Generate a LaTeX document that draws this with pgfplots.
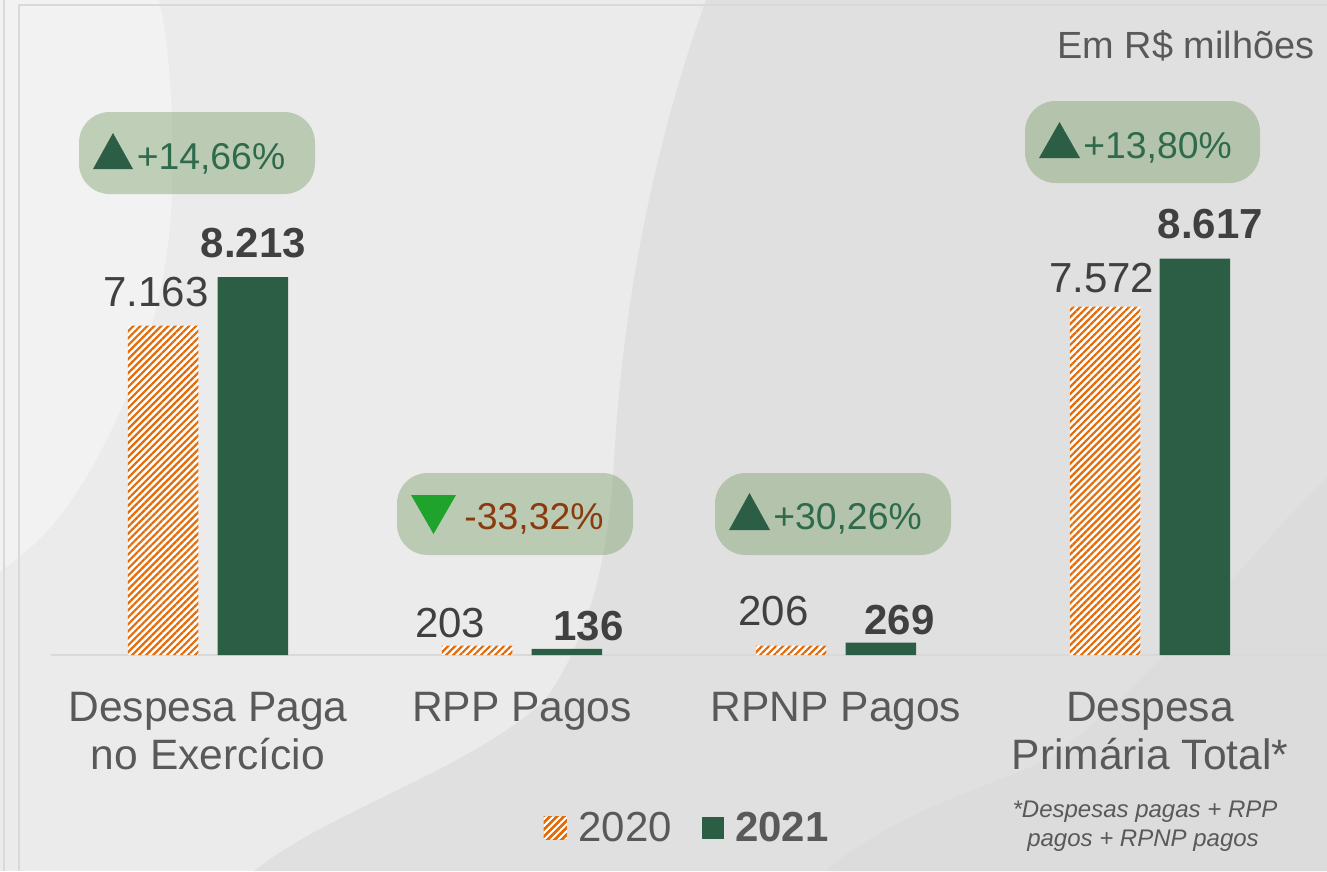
\documentclass[border=0pt]{standalone}
\usepackage{fontspec}
\setmainfont{Liberation Sans}
\usepackage{pgfplots}
\usepackage{pgfplotstable}
\pgfplotsset{compat=1.18}
\usetikzlibrary{patterns.meta}
\definecolor{barGreen}{HTML}{2C5E45}
\definecolor{pillTxt}{HTML}{2F6A4C}
\definecolor{barOrange}{HTML}{E36C0A}
\definecolor{pillC}{HTML}{739A5E}
\definecolor{labelC}{HTML}{404040}
\definecolor{textC}{HTML}{595959}
\definecolor{brownC}{HTML}{8B3A0E}
\definecolor{downC}{HTML}{1FA32C}
\definecolor{frameC}{HTML}{D9D9D9}
\pgfplotstableread{
x y
0 7163
1 203
2 206
3 7572
}\tableA
\pgfplotstableread{
x y
0 8213
1 136
2 269
3 8617
}\tableB
\tikzset{
 stripes/.style={pattern={Lines[angle=45,distance=3.7pt,line width=1.65pt]},pattern color=barOrange},
 pill/.style={fill=pillC,fill opacity=0.4,rounded corners=23pt},
 pilltxt/.style={anchor=base,font=\fontsize{28}{32}\selectfont,inner sep=0pt},
 lbl/.style={anchor=base,inner sep=0pt,text=labelC,font=\fontsize{31.5}{36}\selectfont},
 lblb/.style={anchor=base,inner sep=0pt,text=labelC,font=\bfseries\fontsize{31.5}{36}\selectfont}
}
\begin{document}
\begin{tikzpicture}[x=0.75pt,y=-0.75pt]
\path[use as bounding box] (0,0) rectangle (1327,871);
% background
\fill[white!92!black] (0,0) rectangle (1327,871);
\fill[white!88!black] (706,0) .. controls (670,100) and (625,260) .. (614,461)
  .. controls (610,540) and (595,630) .. (545,700)
  .. controls (470,770) and (330,810) .. (254,871) -- (1327,871) -- (1327,0) -- cycle;
\fill[white!86.3!black] (825,871) .. controls (900,810) and (980,790) .. (1045,761)
  .. controls (1150,690) and (1250,550) .. (1327,478) -- (1327,871) -- cycle;
\fill[white!95!black] (0,0) -- (159,0) .. controls (172,50) and (180,190) .. (163,278)
  .. controls (146,366) and (100,470) .. (50,528) .. controls (30,550) and (15,560) .. (0,572) -- cycle;
\draw[frameC,line width=1.5pt] (3.5,0) -- (3.5,871);
\draw[frameC,line width=1.5pt] (18.5,871) -- (18.5,5) -- (1327,5);
\begin{axis}[
  at={(38.25pt,-653.25pt)},anchor=south west,
  scale only axis,width=957pt,height=653.25pt,
  xmin=-0.5,xmax=3.5637,ymin=-4695.65,ymax=14239.1,
  axis x line=middle,axis y line=none,
  x axis line style={draw=frameC,line width=1.5pt,-},
  clip=false,
  xtick={0,1,2,3},major tick length=0pt,
  xticklabels={{Despesa Paga\\no Exercício},{RPP Pagos},{RPNP Pagos},{Despesa\\Primária Total*}},
  xticklabel style={align=center,anchor=north,text=textC,font=\fontsize{31.9}{36}\selectfont,yshift=-24.5pt},
  bar width=0.2245,
  legend columns=2,
  legend cell align=left,
  legend style={at={(axis cs:1.07,-3760)},anchor=west,draw=none,fill=none,inner sep=0pt,outer sep=0pt,
    text=textC,font=\fontsize{31.5}{36}\selectfont,
    /tikz/every odd column/.append style={column sep=6.5pt},
    /tikz/every even column/.append style={column sep=20.5pt}},
]
\addplot[ybar,bar shift=-0.143,draw=none,fill=white,postaction={stripes},
  legend image code/.code={\fill[white] (0pt,-8.6pt) rectangle (17.25pt,8.6pt);
     \fill[pattern={Lines[angle=45,distance=3.7pt,line width=1.65pt]},pattern color=barOrange] (0pt,-8.6pt) rectangle (17.25pt,8.6pt);}]
  table[x=x,y=y]{\tableA};
\addlegendentry{2020}
\addplot[ybar,bar shift=0.143,draw=none,fill=barGreen,
  legend image code/.code={\fill[barGreen] (0pt,-8.3pt) rectangle (16.5pt,8.3pt);}]
  table[x=x,y=y]{\tableB};
\addlegendentry{\textbf{2021}}
\node[lbl,xshift=-5.25pt,yshift=14.6pt] at (axis cs:-0.143,7163) {7.163};
\node[lbl,xshift=-20.25pt,yshift=6.4pt] at (axis cs:0.857,203) {203};
\node[lbl,xshift=-13.15pt,yshift=15.1pt] at (axis cs:1.857,206) {206};
\node[lbl,xshift=-2.65pt,yshift=10.6pt] at (axis cs:2.857,7572) {7.572};
\node[lblb,xshift=0.35pt,yshift=14.6pt] at (axis cs:0.143,8213) {8.213};
\node[lblb,xshift=16.15pt,yshift=6.4pt] at (axis cs:1.143,136) {136};
\node[lblb,xshift=13.85pt,yshift=6.1pt] at (axis cs:2.143,269) {269};
\node[lblb,xshift=11.65pt,yshift=15.4pt] at (axis cs:3.143,8617) {8.617};
\end{axis}
% pills
\fill[pill] (79,112) rectangle (315,194);
\fill[pill] (397,473) rectangle (633,555);
\fill[pill] (715,473) rectangle (951,555);
\fill[pill] (1025,101) rectangle (1260,183);
\fill[barGreen] (113,133) -- (133,169) -- (93,169) -- cycle;
\fill[barGreen] (1059.5,122) -- (1080,158) -- (1039,158) -- cycle;
\fill[barGreen] (749.5,493) -- (770,530) -- (729,530) -- cycle;
\fill[downC] (411,495) -- (456,495) -- (433.5,534) -- cycle;
\node[pilltxt,text=pillTxt] at (211,169) {+14,66\%};
\node[pilltxt,text=pillTxt] at (1157.5,158) {+13,80\%};
\node[pilltxt,text=pillTxt] at (847.5,529.5) {+30,26\%};
\node[pilltxt,text=brownC] at (534,529.5) {-33,32\%};
\node[anchor=base east,inner sep=0pt,text=textC,font=\fontsize{28.4}{32}\selectfont] at (1314.5,58) {Em R\$ milhões};
\node[anchor=base,inner sep=0pt,text=textC,font=\itshape\fontsize{18}{22}\selectfont] at (1145,817) {*Despesas pagas + RPP};
\node[anchor=base,inner sep=0pt,text=textC,font=\itshape\fontsize{18}{22}\selectfont] at (1143,846) {pagos + RPNP pagos};
\end{tikzpicture}
\end{document}
